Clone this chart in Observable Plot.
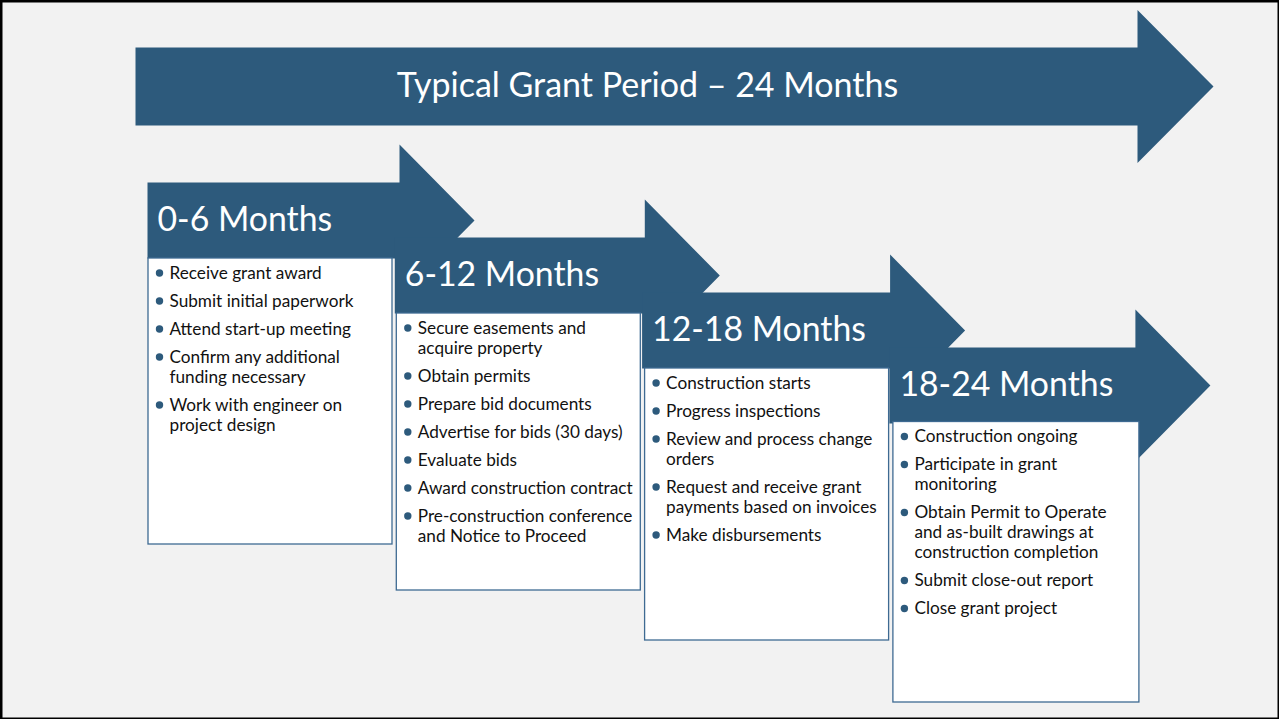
<!DOCTYPE html>
<html><head><meta charset="utf-8">
<script src="https://cdn.jsdelivr.net/npm/d3@7"></script>
<script src="https://cdn.jsdelivr.net/npm/@observablehq/plot@0.6"></script>
<style>
html,body{margin:0;padding:0;background:#f2f2f2;overflow:hidden;}
svg{display:block;}
</style></head><body><div id="chart"></div>
<script>
// ---- data ----
const title = "Typical Grant Period – 24 Months";
const periods = ["0-6 Months", "6-12 Months", "12-18 Months", "18-24 Months"];
const tasks0_6 = ["Receive grant award", "Submit initial paperwork", "Attend start-up meeting",
  "Confirm any additional\nfunding necessary", "Work with engineer on\nproject design"];
const tasks6_12 = ["Secure easements and\nacquire property", "Obtain permits", "Prepare bid documents",
  "Advertise for bids (30 days)", "Evaluate bids", "Award construction contract",
  "Pre-construction conference\nand Notice to Proceed"];
const tasks12_18 = ["Construction starts", "Progress inspections", "Review and process change\norders",
  "Request and receive grant\npayments based on invoices", "Make disbursements"];
const tasks18_24 = ["Construction ongoing", "Participate in grant\nmonitoring",
  "Obtain Permit to Operate\nand as-built drawings at\nconstruction completion",
  "Submit close-out report", "Close grant project"];
const taskLists = [tasks0_6, tasks6_12, tasks12_18, tasks18_24];

// ---- layout / style ----
const W = 1279, H = 719;
const navy = "#2d5a7c", boxStroke = "#3e6a92", font = "Lato, 'Open Sans', sans-serif";
const boxBottoms = [544, 590, 640, 702];
const fsItem = 17.2, lineH = 20, itemGap = 8;

function arrowPts(L, B, T, h, over, len, id) {
  return [[L, T], [B, T], [B, T - over], [B + len, T + h / 2], [B, T + h + over], [B, T + h], [L, T + h]]
    .map(([x, y]) => ({x, y, id}));
}

const marks = [Plot.frame({stroke: "#000", strokeWidth: 4})];

// big arrow
marks.push(Plot.line(arrowPts(135, 1137, 47, 78, 37.5, 76, "main"),
  {x: "x", y: "y", curve: "linear-closed", fill: navy, stroke: "none"}));
marks.push(Plot.text([title], {x: () => 647, y: () => 86, text: d => d, fill: "white",
  fontSize: 34, fontFamily: font, textAnchor: "middle", lineAnchor: "middle"}));

periods.forEach((p, i) => {
  const L = 147 + 247.3 * i, B = 399 + 245.3 * i, T = 182 + 55 * i, h = 76;
  marks.push(Plot.line(arrowPts(L, B, T, h, 38, 75, p),
    {x: "x", y: "y", curve: "linear-closed", fill: navy, stroke: "none"}));
  marks.push(Plot.text([p], {x: () => L + 10, y: () => T + h / 2, text: d => d, fill: "white",
    fontSize: 33.8, fontFamily: font, textAnchor: "start", lineAnchor: "middle"}));
  const bl = 148 + 248.3 * i, bt = T + h - (i === 3 ? 1.5 : 0), bw = 244 + (i === 3 ? 2 : 0);
  marks.push(Plot.rect([p], {x1: () => bl, x2: () => bl + bw, y1: () => bt, y2: () => boxBottoms[i],
    fill: "white", stroke: boxStroke, strokeWidth: 1.3}));
  // lines
  const lines = [], bullets = [];
  let y = bt + 14.5;
  taskLists[i].forEach(t => {
    const parts = t.split("\n");
    bullets.push({x: bl + 11, y});
    parts.forEach(s => { lines.push({x: bl + 21, y, s}); y += lineH; });
    y += itemGap;
  });
  marks.push(Plot.dot(bullets, {x: "x", y: "y", r: 3.7, fill: navy, stroke: "none"}));
  marks.push(Plot.text(lines, {x: "x", y: "y", text: "s", fill: "#111", fontSize: fsItem,
    fontFamily: font, textAnchor: "start", lineAnchor: "middle"}));
});

const chart = Plot.plot({
  width: W, height: H, margin: 0,
  x: {type: "identity", axis: null}, y: {type: "identity", axis: null},
  style: {background: "#f2f2f2", fontFamily: font},
  marks
});
document.getElementById("chart").append(chart);
</script></body></html>
